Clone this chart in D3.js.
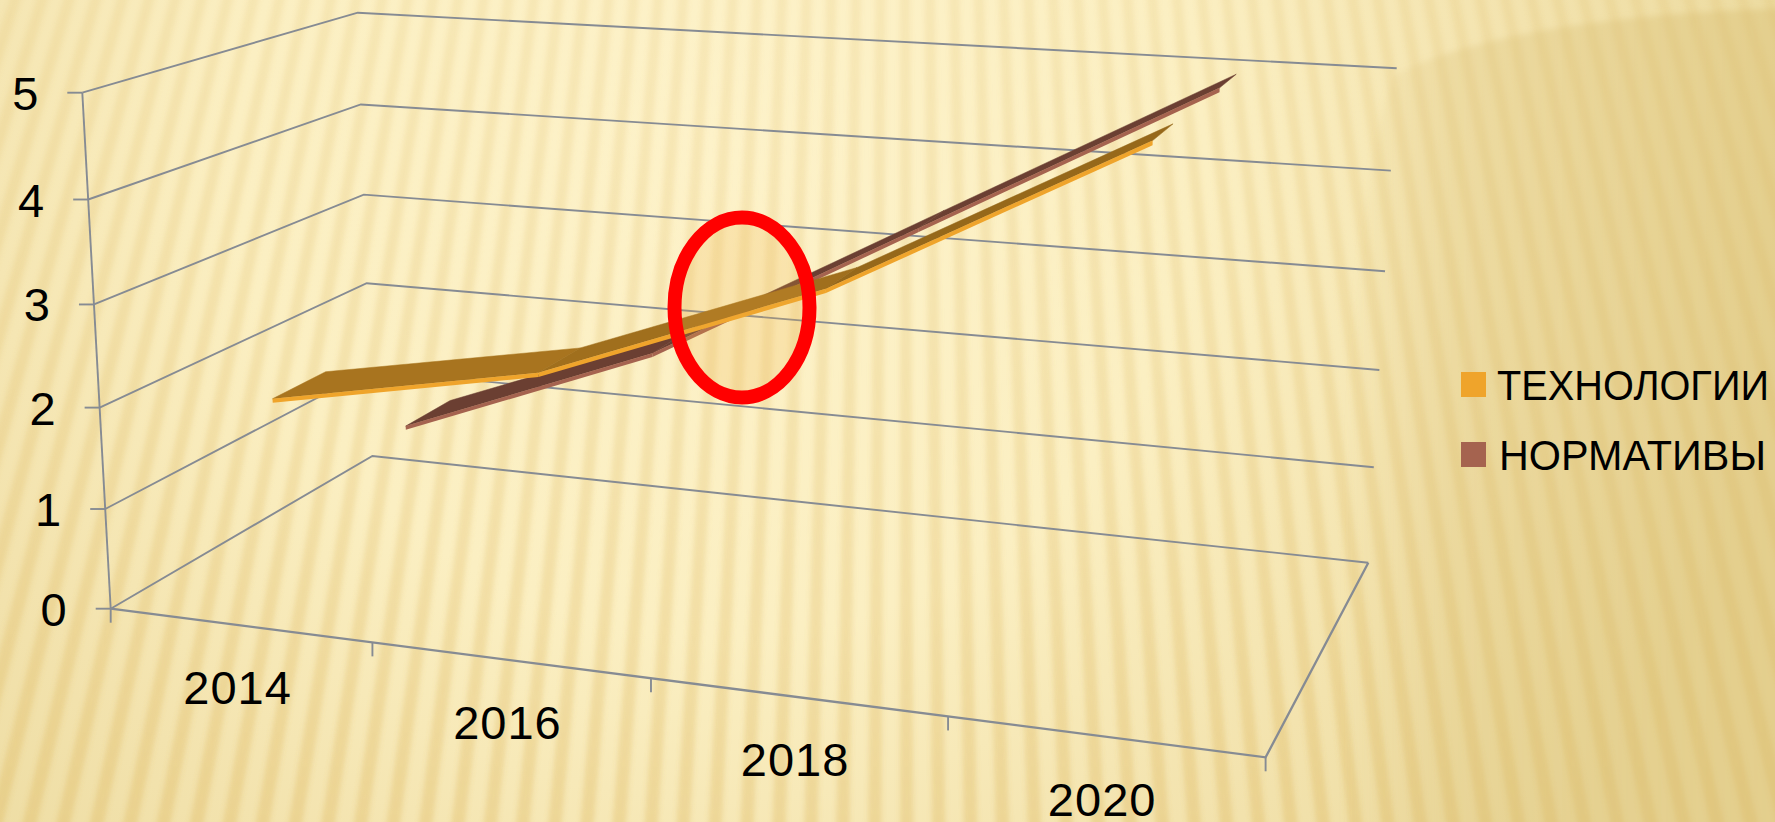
<!DOCTYPE html>
<html>
<head>
<meta charset="utf-8">
<script src="https://cdn.jsdelivr.net/npm/d3@7"></script>
<style>
  html, body { margin: 0; padding: 0; background: #f6e7b5; overflow: hidden; }
  text { font-family: "Liberation Sans", Arial, sans-serif; fill: #000; }
</style>
</head>
<body>
<div id="main"></div>
<script>
const years = ["2014", "2016", "2018", "2020"];
const seriesNames = ["ТЕХНОЛОГИИ", "НОРМАТИВЫ"];
const technologies = [2.0, 2.5, 3.52, 5.05];
const standards = [1.0, 2.02, 3.5, 5.03];
const valueTicks = [0, 1, 2, 3, 4, 5];

const sideColors = ["#efa42b", "#a5634f"];
const topColors = [["#a8741f", "#a06f1d", "#96681a"], ["#6b3f32", "#6b3f32", "#6b3f32"]];

const width = 1775, height = 822;

const svg = d3.select("#main").append("svg")
  .attr("width", width)
  .attr("height", height)
  .style("display", "block");

// background: cream sheet with a fan of soft stripes
const defs = svg.append("defs");
const glow = defs.append("radialGradient").attr("id", "glow")
  .attr("gradientUnits", "userSpaceOnUse")
  .attr("cx", 720).attr("cy", 150).attr("r", 1080);
glow.append("stop").attr("offset", "0").attr("stop-color", "#fdf2c9");
glow.append("stop").attr("offset", "0.45").attr("stop-color", "#fbefc2");
glow.append("stop").attr("offset", "0.75").attr("stop-color", "#f3e3ae");
glow.append("stop").attr("offset", "1").attr("stop-color", "#ecdba0");
defs.append("filter").attr("id", "soft").attr("x", "-5%").attr("y", "-5%").attr("width", "110%").attr("height", "110%")
  .append("feGaussianBlur").attr("stdDeviation", 2.4);
defs.append("filter").attr("id", "softer").attr("x", "-20%").attr("y", "-20%").attr("width", "140%").attr("height", "140%")
  .append("feGaussianBlur").attr("stdDeviation", 3);

const fade = defs.append("linearGradient").attr("id", "stripeFade")
  .attr("gradientUnits", "userSpaceOnUse")
  .attr("x1", 0).attr("y1", 0).attr("x2", 0).attr("y2", height);
fade.append("stop").attr("offset", "0").attr("stop-color", "#777");
fade.append("stop").attr("offset", "0.6").attr("stop-color", "#bbb");
fade.append("stop").attr("offset", "1").attr("stop-color", "#fff");
defs.append("mask").attr("id", "stripeMask")
  .attr("maskUnits", "userSpaceOnUse")
  .attr("x", 0).attr("y", 0).attr("width", width).attr("height", height)
  .append("rect").attr("width", width).attr("height", height).attr("fill", "url(#stripeFade)");

const corner = defs.append("linearGradient").attr("id", "cornerFade")
  .attr("gradientUnits", "userSpaceOnUse")
  .attr("x1", 1340).attr("y1", 0).attr("x2", 1775).attr("y2", 0);
corner.append("stop").attr("offset", "0").attr("stop-color", "#d8bd72").attr("stop-opacity", 0);
corner.append("stop").attr("offset", "0.25").attr("stop-color", "#d8bd72").attr("stop-opacity", 0.26);
corner.append("stop").attr("offset", "1").attr("stop-color", "#d8bd72").attr("stop-opacity", 0.42);

svg.append("rect").attr("width", width).attr("height", height).attr("fill", "url(#glow)");

const fanX = 900, fanY = -2800, fanStep = 0.0088;
svg.append("g").attr("mask", "url(#stripeMask)")
  .append("g").attr("filter", "url(#soft)")
  .selectAll("path")
  .data(d3.range(-40, 40))
  .join("path")
  .attr("fill", "#d9ae4e")
  .attr("opacity", 0.3)
  .attr("d", d => {
    const a0 = d * fanStep, a1 = a0 + fanStep * 0.42, r = 3900;
    return `M${fanX},${fanY}L${fanX + r * Math.sin(a0)},${fanY + r * Math.cos(a0)}L${fanX + r * Math.sin(a1)},${fanY + r * Math.cos(a1)}Z`;
  });

// darker corner on the right, behind the glow edge
svg.append("path")
  .attr("filter", "url(#softer)")
  .attr("fill", "url(#cornerFade)")
  .attr("d", "M1810,8 C1650,10 1480,30 1395,75 C1360,150 1340,400 1340,860 L1810,860 Z");

// projection of the chart box onto the page
function quadMap(p0, p1, p2, p3) {
  const dx1 = p1[0] - p2[0], dx2 = p3[0] - p2[0], sx = p0[0] - p1[0] + p2[0] - p3[0];
  const dy1 = p1[1] - p2[1], dy2 = p3[1] - p2[1], sy = p0[1] - p1[1] + p2[1] - p3[1];
  const den = dx1 * dy2 - dx2 * dy1;
  const g = (sx * dy2 - dx2 * sy) / den, h = (dx1 * sy - sx * dy1) / den;
  const a = p1[0] - p0[0] + g * p1[0], b = p3[0] - p0[0] + h * p3[0];
  const d = p1[1] - p0[1] + g * p1[1], e = p3[1] - p0[1] + h * p3[1];
  return (u, w) => {
    const k = g * u + h * w + 1;
    return [(a * u + b * w + p0[0]) / k, (d * u + e * w + p0[1]) / k];
  };
}
const floorMap = quadMap([110.7, 608.7], [1265.6, 757.3], [1368.3, 562.7], [372.4, 456]);
const roofMap = quadMap([82.3, 92.7], [1294, 182], [1396.7, 68.3], [357.8, 12.7]);

const x = d3.scaleBand().domain(years).range([0, 1]);
const z = d3.scaleBand().domain(seriesNames).range([0, 1]).paddingInner(0.59).paddingOuter(0.3);
const y = d3.scaleLinear().domain([0, 5]).range([0, 1]);

function project(u, w, value) {
  const t = y(value), s = t / (t + (1 - t) * 1.044);
  const a = floorMap(u, w), b = roofMap(u, w);
  return [a[0] + (b[0] - a[0]) * s, a[1] + (b[1] - a[1]) * s];
}
const xMid = c => x(c) + x.bandwidth() / 2;
const line = d3.line();

// walls
const frame = svg.append("g")
  .attr("fill", "none")
  .attr("stroke", "#868b93")
  .attr("stroke-width", 1.9);

frame.selectAll(".grid")
  .data(valueTicks)
  .join("path")
  .attr("class", "grid")
  .attr("d", v => line([project(0, 0, v), project(0, 1, v), project(1, 1, v)]));
frame.append("path").attr("d", line([project(0, 0, 0), project(0, 0, 5)]));
frame.append("path").attr("d", line([project(0, 0, 0), project(1, 0, 0), project(1, 1, 0)])).attr("stroke-width", 2.3);

frame.selectAll(".vtick")
  .data(valueTicks)
  .join("path")
  .attr("class", "vtick")
  .attr("d", v => {
    const p = project(0, 0, v);
    return line([[p[0] - 15, p[1]], p]);
  });
frame.selectAll(".xtick")
  .data(d3.range(0, years.length + 1))
  .join("path")
  .attr("class", "xtick")
  .attr("d", i => {
    const p = project(i / years.length, 0, 0);
    return line([p, [p[0], p[1] + 14]]);
  });

// value and year labels
svg.selectAll(".vlabel")
  .data(valueTicks)
  .join("text")
  .attr("class", "vlabel")
  .attr("text-anchor", "end")
  .attr("font-size", 47)
  .attr("x", v => project(0, 0, v)[0] - 44)
  .attr("y", v => project(0, 0, v)[1] + 17)
  .text(v => v);
svg.selectAll(".xlabel")
  .data(years)
  .join("text")
  .attr("class", "xlabel")
  .attr("text-anchor", "middle")
  .attr("font-size", 47)
  .attr("letter-spacing", 1)
  .attr("x", c => project(xMid(c), 0, 0)[0] - 2)
  .attr("y", c => project(xMid(c), 0, 0)[1] + 79)
  .text(c => c);

// ribbons, back series first; the band narrows a little towards the far end
function ribbon(name, values, si) {
  const g = svg.append("g").attr("class", "ribbon");
  const centre = z(name) + z.bandwidth() / 2;
  const edge = (u, side) => centre + side * z.bandwidth() / 2 * (1 - 0.35 * u);
  const segs = d3.pairs(years.map((c, i) => ({ u: xMid(c) * 1.012, v: values[i] })));
  segs.forEach((s, i) => {
    g.append("path")
      .attr("fill", topColors[si][i])
      .attr("stroke", topColors[si][i])
      .attr("stroke-width", 0.5)
      .attr("d", line([
        project(s[0].u, edge(s[0].u, -1), s[0].v), project(s[1].u, edge(s[1].u, -1), s[1].v),
        project(s[1].u, edge(s[1].u, 1), s[1].v), project(s[0].u, edge(s[0].u, 1), s[0].v)
      ]) + "Z");
    g.append("path")
      .attr("fill", sideColors[si])
      .attr("d", line([
        project(s[0].u, edge(s[0].u, -1), s[0].v), project(s[1].u, edge(s[1].u, -1), s[1].v),
        project(s[1].u, edge(s[1].u, -1), s[1].v - 0.04), project(s[0].u, edge(s[0].u, -1), s[0].v - 0.04)
      ]) + "Z");
  });
}
ribbon(seriesNames[1], standards, 1);
ribbon(seriesNames[0], technologies, 0);

// red marker ellipse
svg.append("ellipse")
  .attr("cx", 742).attr("cy", 307.5)
  .attr("rx", 67.5).attr("ry", 90)
  .attr("fill", "#efb040").attr("fill-opacity", 0.2)
  .attr("stroke", "#ff0000").attr("stroke-width", 14);

// legend
const legend = svg.selectAll(".legend")
  .data(seriesNames)
  .join("g")
  .attr("class", "legend")
  .attr("transform", (d, i) => `translate(1461,${372 + i * 70})`);
legend.append("rect")
  .attr("width", 25).attr("height", 25)
  .attr("fill", (d, i) => ["#efa42b", "#a5634f"][i]);
legend.append("text")
  .attr("transform", (d, i) => `translate(${[36, 38][i]},28) scale(1,1.08)`)
  .attr("font-size", 40)
  .attr("textLength", (d, i) => [272, 267][i])
  .attr("lengthAdjust", "spacingAndGlyphs")
  .text(d => d);
</script>
</body>
</html>
